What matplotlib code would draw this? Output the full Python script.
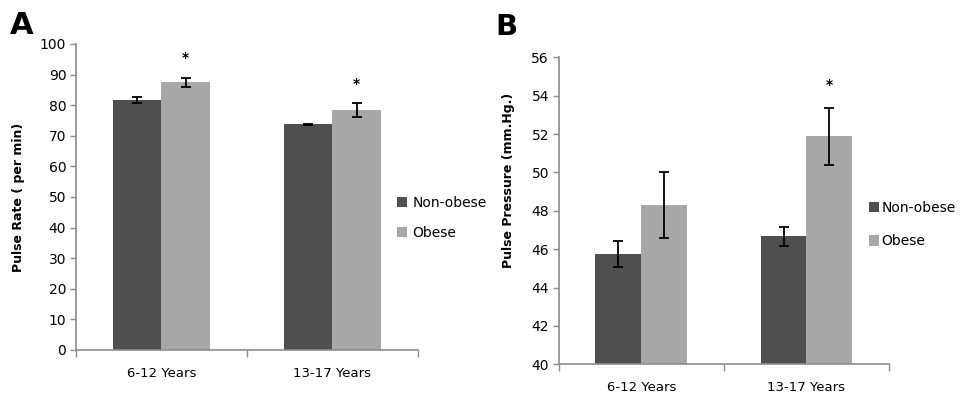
import matplotlib
matplotlib.use("Agg")
import matplotlib.pyplot as plt
import numpy as np

# Data ----------------------------------------------------------------------------------------------
groups       = ["6-12 Years", "13-17 Years"]
seriesNames  = ["Non-obese", "Obese"]

# Panel A: pulse rate (per min)
rateNonObese    = [81.8, 73.7]
rateObese       = [87.5, 78.4]
rateNonObeseErr = [1.0, 0.3]
rateObeseErr    = [1.4, 2.3]
rateStars       = [95.5, 86.8]          # asterisk heights over the obese bars

# Panel B: pulse pressure (mm.Hg.)
presNonObese    = [45.75, 46.68]
presObese       = [48.3, 51.88]
presNonObeseErr = [0.7, 0.5]
presObeseErr    = [1.7, 1.5]
presStars       = [None, 54.55]

colorDark  = "#4f4f4f"
colorLight = "#a8a8a8"
axisGray   = "#8c8c8c"
# ---------------------------------------------------------------------------------------------------

plt.rcParams['font.family'] = ['DejaVu Sans']
fig = plt.figure(figsize=(9.63, 4.01), dpi=100)

axA = fig.add_axes([0.0789, 0.1272, 0.355, 0.7631])
axB = fig.add_axes([0.5802, 0.0915, 0.3430, 0.7656])

def draw_panel(ax, lo, hi, loErr, hiErr, stars, ylim, yticks, ylabel, barW,
               legendAnchor, legendSpacing, legendPad):
    centers = np.arange(len(groups)) + 0.5
    ax.bar(centers - barW/2, lo, barW, color=colorDark, label=seriesNames[0], zorder=2)
    ax.bar(centers + barW/2, hi, barW, color=colorLight, label=seriesNames[1], zorder=2)
    ax.errorbar(centers - barW/2, lo, yerr=loErr, fmt='none', ecolor='black',
                elinewidth=1.3, capsize=3.5, capthick=1.3, zorder=3)
    ax.errorbar(centers + barW/2, hi, yerr=hiErr, fmt='none', ecolor='black',
                elinewidth=1.3, capsize=3.5, capthick=1.3, zorder=3)
    for c, s in zip(centers, stars):
        if s is not None:
            ax.text(c + barW/2, s, "*", ha='center', va='center', fontsize=10, fontweight='bold')

    ax.set_xlim(0, len(groups))
    ax.set_ylim(*ylim)
    ax.set_yticks(yticks)
    ax.set_xticks(np.arange(len(groups) + 1))
    ax.set_xticklabels([])
    ax.set_xticks(centers, minor=True)
    ax.set_xticklabels(groups, minor=True, fontsize=9.5)
    ax.tick_params(axis='x', which='major', length=5, width=1, color=axisGray, direction='out')
    ax.tick_params(axis='x', which='minor', length=0, pad=12)
    ax.tick_params(axis='y', length=4, width=1, color=axisGray, labelsize=10, pad=3)
    for side in ['top', 'right']:
        ax.spines[side].set_visible(False)
    for side in ['left', 'bottom']:
        ax.spines[side].set_color(axisGray)
        ax.spines[side].set_linewidth(1.2)
    ax.set_ylabel(ylabel, fontsize=9, fontweight='bold')
    ax.legend(loc='center left', bbox_to_anchor=legendAnchor, frameon=False,
              handlelength=0.75, handleheight=0.75, handletextpad=legendPad,
              labelspacing=legendSpacing, fontsize=10, borderaxespad=0)

draw_panel(axA, rateNonObese, rateObese, rateNonObeseErr, rateObeseErr, rateStars,
           (0, 100), np.arange(0, 101, 10), "Pulse Rate ( per min)", 0.283,
           (0.922, 0.431), 1.15, 0.4)
draw_panel(axB, presNonObese, presObese, presNonObeseErr, presObeseErr, presStars,
           (40, 56), np.arange(40, 57, 2), "Pulse Pressure (mm.Hg.)", 0.278,
           (0.922, 0.455), 1.4, 0.15)

axA.yaxis.set_label_coords(-0.149, 0.5)
axB.yaxis.set_label_coords(-0.132, 0.6)

fig.text(0.010, 0.900, "A", fontsize=22, fontweight='bold', ha='left', va='bottom')
fig.text(0.514, 0.898, "B", fontsize=21, fontweight='bold', ha='left', va='bottom')

fig.savefig("out.png", dpi=100, facecolor='white')
